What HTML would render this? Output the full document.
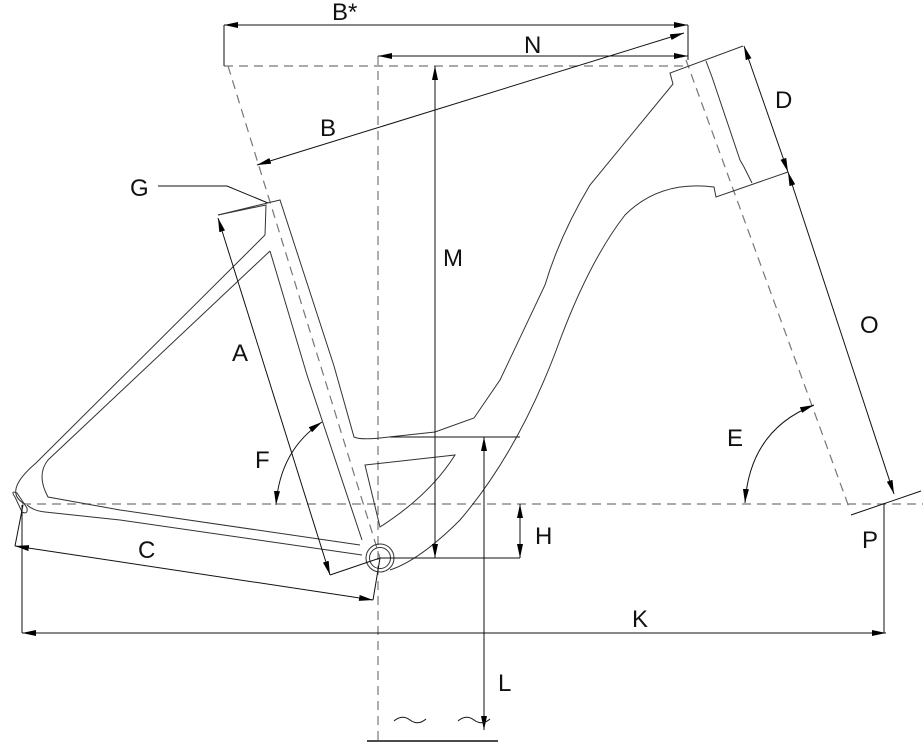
<!DOCTYPE html>
<html><head><meta charset="utf-8"><style>
html,body{margin:0;padding:0;background:#fff;}
svg{display:block;}
text{font-family:"Liberation Sans",sans-serif;font-size:24px;fill:#111;}
</style></head><body>
<svg width="923" height="742" viewBox="0 0 923 742" xmlns="http://www.w3.org/2000/svg">
<defs>
<marker id="ar" viewBox="0 0 14 6" refX="14" refY="3" markerWidth="14" markerHeight="6" orient="auto-start-reverse" markerUnits="userSpaceOnUse">
<path d="M0,0 L14,3 L0,6 z" fill="#000"/></marker>
</defs>
<g fill="none" stroke="#777" stroke-width="1.2" stroke-dasharray="9,6">
<line x1="224" y1="66" x2="690" y2="66"/>
<line x1="22" y1="504" x2="923" y2="504"/>
<line x1="378" y1="56" x2="378" y2="742"/>
<line x1="228" y1="66" x2="380" y2="558"/>
<line x1="686" y1="60" x2="850" y2="510"/>
</g>
<g fill="none" stroke="#333" stroke-width="1">
<path d="M218,215 L280,200 L334,366 L354,437 Q360,440 380,438 L435,432 L474,418 L500,380 L545,285 Q560,235 590,185 L673,84 L670,73 L743,46"/>
<path d="M788,172 L716,197 L714,187 Q660,180 625,215 Q590,260 560,340 Q520,450 460,520 Q420,560 390,570"/>
<path d="M218,215 L266,205 L265,235"/>
<path d="M265,235 L36,463 Q2,492 25,504"/>
<path d="M270,251 L307,375 L362,540"/>
<path d="M270,251 L48,460 Q36,475 48,497 L120,510 L360,545"/>
<path d="M27,505 Q34,511 45,512 L120,520 L362,555"/>
<path d="M15,497 Q10,490 17,493 L27,508 Q28,515 22,512 Z"/>
<path d="M706,61 L712,77 L740,160 L744,167 L752,183"/>
<path d="M365,465 L455,455 Q430,495 380,527 Z"/>
<circle cx="380" cy="558" r="14"/>
<circle cx="380" cy="558" r="10.5"/>
</g>
<g fill="none" stroke="#111" stroke-width="1">
<line x1="224" y1="25" x2="224" y2="66"/>
<line x1="688" y1="25" x2="688" y2="60"/>
<line x1="224" y1="25" x2="688" y2="25" marker-start="url(#ar)" marker-end="url(#ar)"/>
<line x1="378" y1="56" x2="688" y2="56" marker-start="url(#ar)" marker-end="url(#ar)"/>
<line x1="257" y1="165" x2="684" y2="33" marker-start="url(#ar)" marker-end="url(#ar)"/>
<line x1="435" y1="66" x2="435" y2="558" marker-start="url(#ar)" marker-end="url(#ar)"/>
<line x1="390" y1="437" x2="520" y2="437"/>
<line x1="380" y1="558" x2="520" y2="558"/>
<line x1="484" y1="437" x2="484" y2="730" marker-start="url(#ar)" marker-end="url(#ar)"/>
<line x1="520" y1="504" x2="520" y2="558" marker-start="url(#ar)" marker-end="url(#ar)"/>
<line x1="22" y1="505" x2="22" y2="633"/>
<line x1="884" y1="503" x2="884" y2="633"/>
<line x1="22" y1="633" x2="886" y2="633" marker-start="url(#ar)" marker-end="url(#ar)"/>
<line x1="15" y1="546" x2="23" y2="505"/>
<line x1="15" y1="546" x2="373" y2="600" marker-start="url(#ar)" marker-end="url(#ar)"/>
<line x1="373" y1="600" x2="380" y2="558"/>
<line x1="218" y1="218" x2="330" y2="575" marker-start="url(#ar)" marker-end="url(#ar)"/>
<line x1="330" y1="575" x2="380" y2="558"/>
<line x1="744" y1="46" x2="788" y2="172" marker-start="url(#ar)" marker-end="url(#ar)"/>
<line x1="788" y1="172" x2="894" y2="494" marker-start="url(#ar)" marker-end="url(#ar)"/>
<line x1="851" y1="515" x2="921" y2="491"/>
<path d="M322,422 Q280,450 276,505" marker-start="url(#ar)" marker-end="url(#ar)"/>
<path d="M814,405 Q750,430 745,503" marker-start="url(#ar)" marker-end="url(#ar)"/>
<path d="M158,186 L227,186 L268,203"/>
<line x1="367" y1="741" x2="498" y2="741" stroke-width="1.5"/>
<path d="M394,721 Q402,714 410,720 Q418,726 426,719"/>
<path d="M458,721 Q466,714 474,720 Q482,726 490,719"/>
</g>
<text x="332" y="20">B*</text>
<text x="524" y="53">N</text>
<text x="320" y="136">B</text>
<text x="130" y="196">G</text>
<text x="443" y="266">M</text>
<text x="775" y="108">D</text>
<text x="860" y="333">O</text>
<text x="232" y="361">A</text>
<text x="255" y="468">F</text>
<text x="727" y="446">E</text>
<text x="535" y="544">H</text>
<text x="138" y="558">C</text>
<text x="862" y="548">P</text>
<text x="632" y="627">K</text>
<text x="498" y="691">L</text>
</svg>
</body></html>
